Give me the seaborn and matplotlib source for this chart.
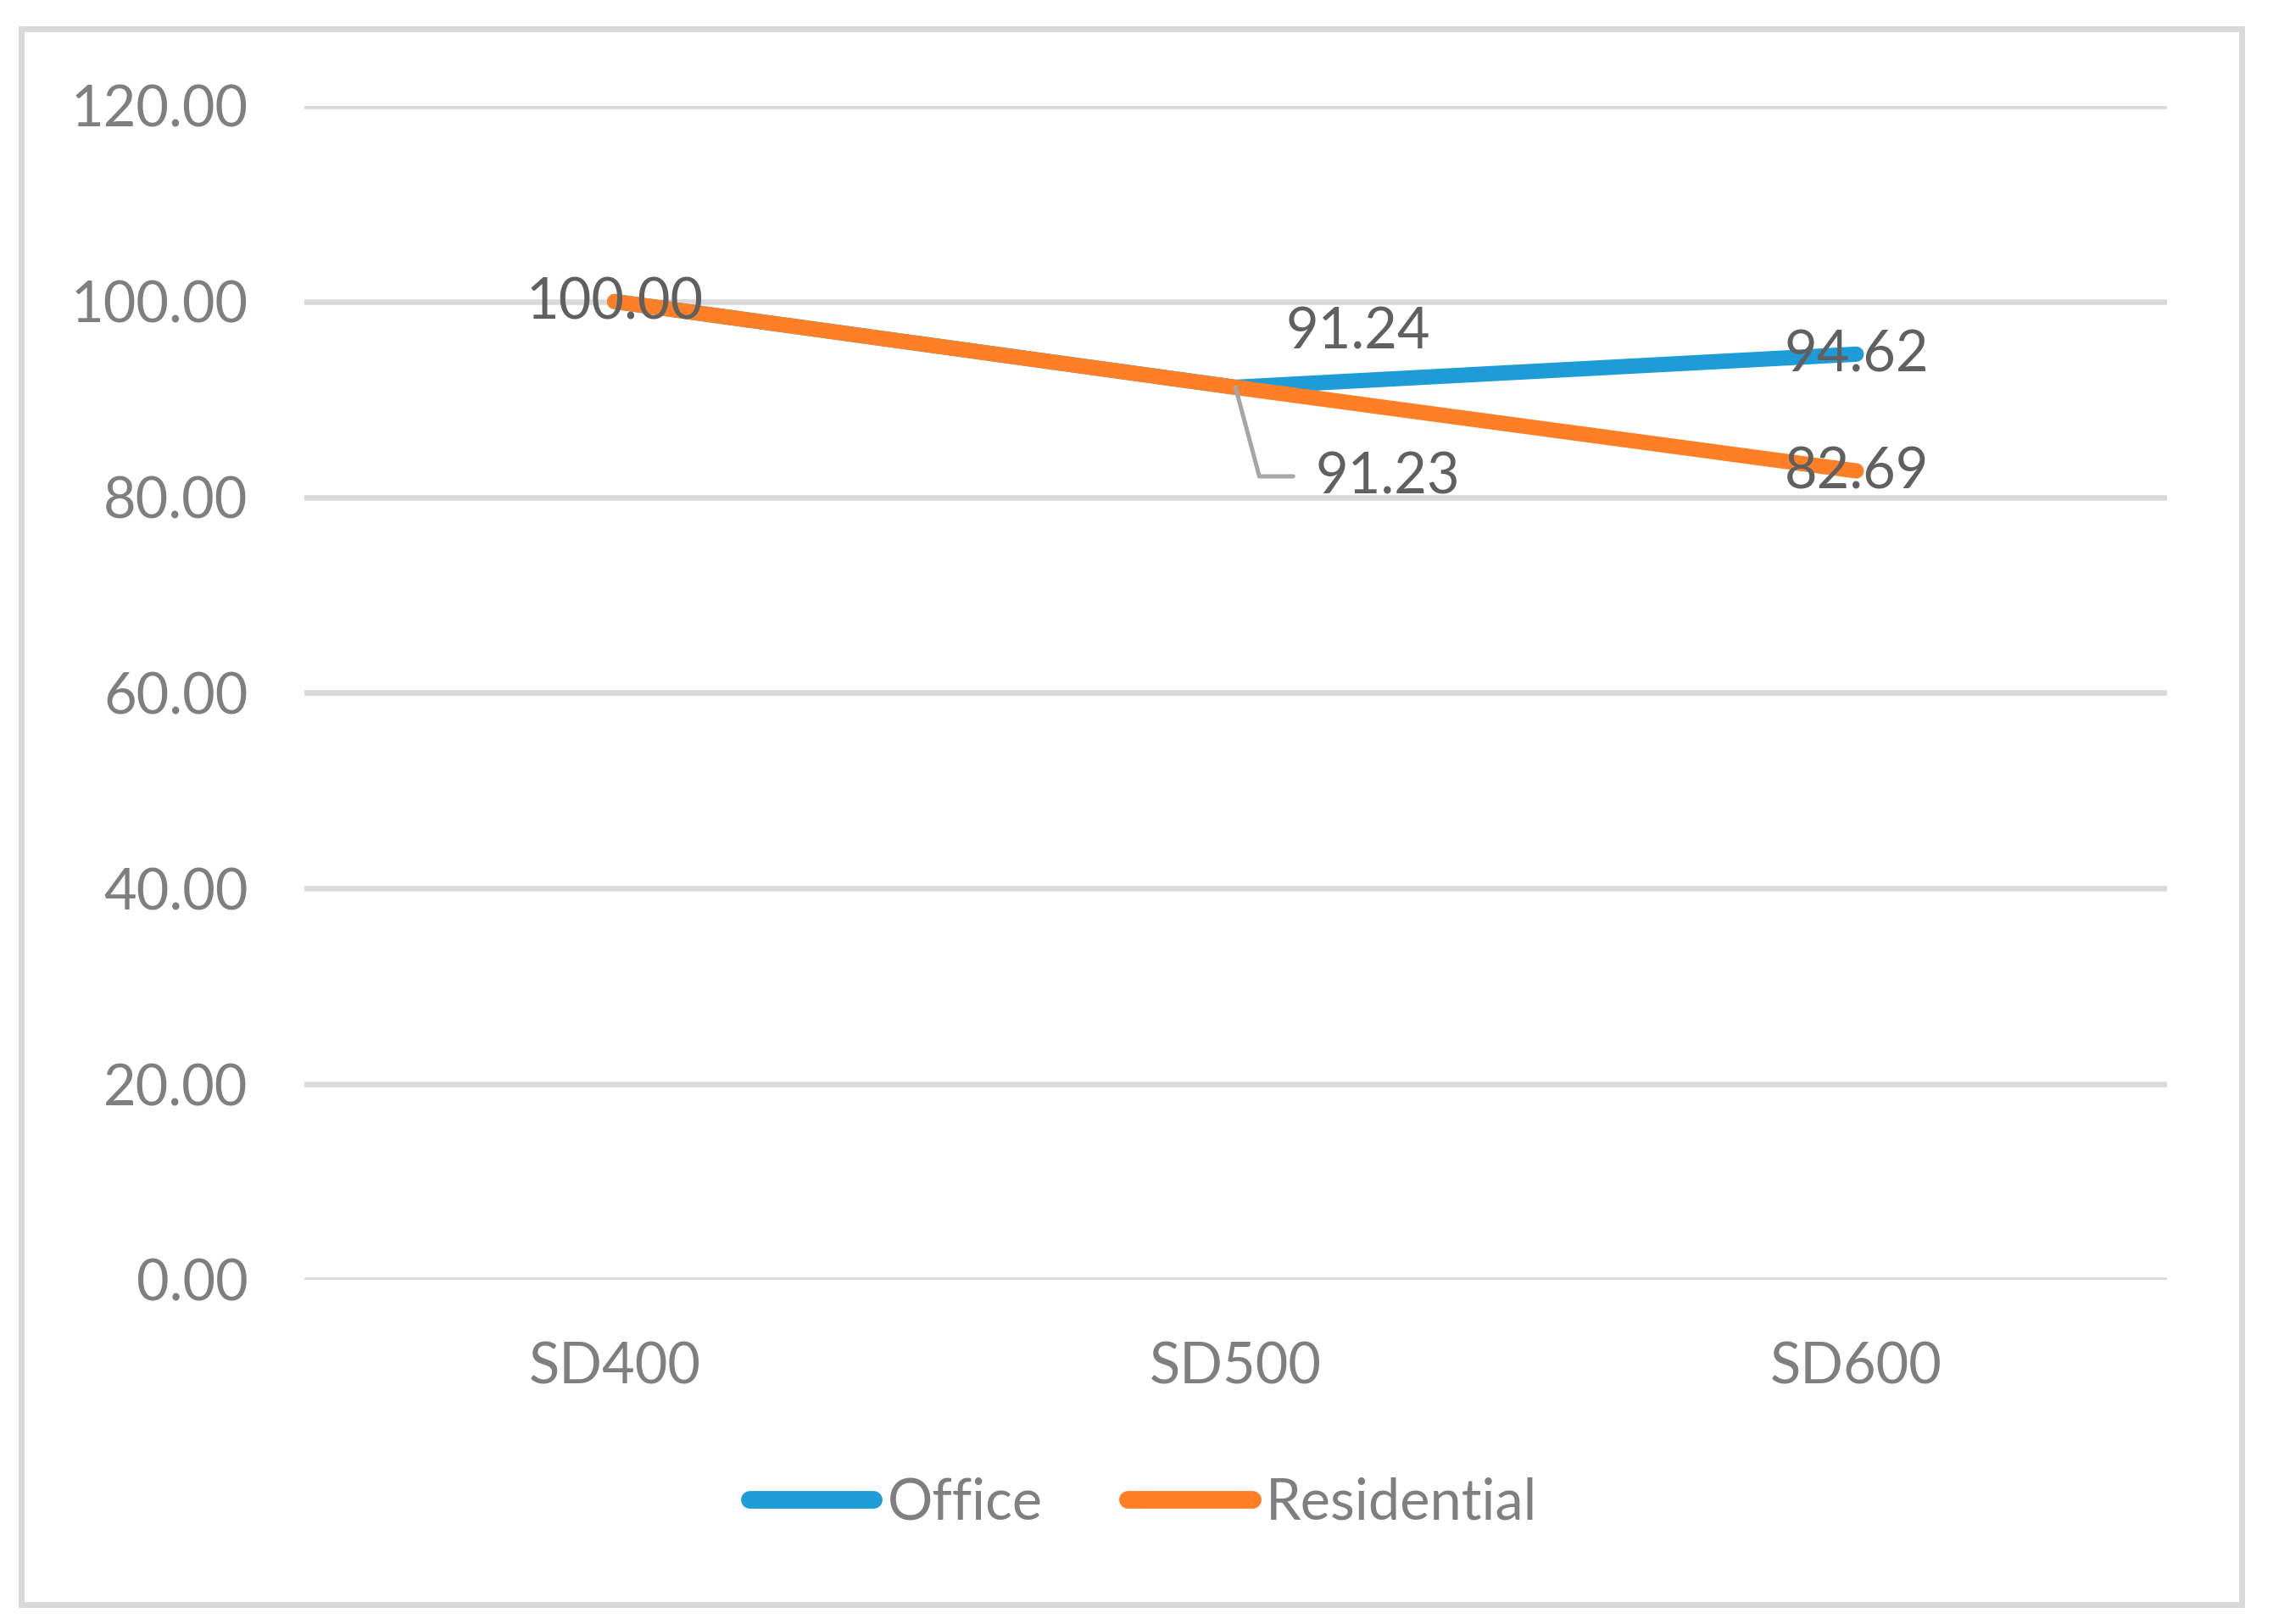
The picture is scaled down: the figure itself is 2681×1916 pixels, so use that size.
import pandas as pd
import matplotlib.pyplot as plt
import seaborn as sns
from matplotlib.patches import Rectangle

# Chart data
categories = ['SD400', 'SD500', 'SD600']
office = [100.00, 91.24, 94.62]
residential = [100.00, 91.23, 82.69]
series_names = ['Office', 'Residential']
y_ticks = [0, 20, 40, 60, 80, 100, 120]

df = pd.DataFrame({
    'cat': categories * 2,
    'value': office + residential,
    'series': [series_names[0]] * 3 + [series_names[1]] * 3,
})

sns.set_theme(style='white')
plt.rcParams['font.family'] = ['Lato', 'DejaVu Sans']

fig = plt.figure(figsize=(26.81, 19.16), dpi=100)
ax = fig.add_axes([0.1339, 0.2119, 0.8193, 0.7229])

sns.lineplot(data=df, x='cat', y='value', hue='series',
             palette=['#1E9CD7', '#FE7F25'], linewidth=13,
             solid_capstyle='round', sort=False, ax=ax)

ax.set_xlim(-0.5, 2.5)
ax.set_ylim(0, 120)
ax.set_yticks(y_ticks)
ax.set_yticklabels([f'{v:.2f}' for v in y_ticks])
ax.yaxis.grid(True, color='#D9D9D9', linewidth=4.7)
ax.set_axisbelow(True)
for s in ax.spines.values():
    s.set_visible(False)
ax.tick_params(axis='y', length=0, pad=48, labelsize=48, labelcolor='#7F7F7F')
ax.tick_params(axis='x', length=0, pad=52, labelsize=48, labelcolor='#7F7F7F')
ax.set_xlabel('')
ax.set_ylabel('')

# Data labels
lab = dict(fontsize=48, color='#606060', ha='center', va='center',
           textcoords='offset pixels')
ax.annotate(f'{office[0]:.2f}', (0, office[0]), xytext=(0, -2), **lab)
ax.annotate(f'{office[1]:.2f}', (1, office[1]), xytext=(145, 64), **lab)
ax.annotate(f'{office[2]:.2f}', (2, office[2]), xytext=(0, -2), **lab)
ax.annotate(f'{residential[2]:.2f}', (2, residential[2]), xytext=(0, -2), **lab)
ax.annotate(f'{residential[1]:.2f}', (1, residential[1]), xytext=(180, -107), **lab)
# leader line for 91.23
ax.annotate('', xy=(1, residential[1]), xytext=(68, -105),
            textcoords='offset pixels',
            arrowprops=dict(arrowstyle='-', color='#A6A6A6', lw=3.6,
                            shrinkA=0, shrinkB=0,
                            connectionstyle='angle,angleA=0,angleB=-75'))

handles, labels = ax.get_legend_handles_labels()
ax.legend_.remove()
leg = fig.legend(handles, labels, loc='center', bbox_to_anchor=(0.503, 0.0746),
                 ncol=2, frameon=False, fontsize=48, handlelength=2.2,
                 handletextpad=0.25, columnspacing=1.5, labelcolor='#7F7F7F')
for h in leg.get_lines():
    h.set_linewidth(15)
    h.set_solid_capstyle('round')

# outer chart border
fig.patches.append(Rectangle((25 / 2681, 1 - 1893 / 1916), 2619 / 2681, 1859 / 1916,
                             transform=fig.transFigure, fill=False,
                             edgecolor='#D9D9D9', linewidth=5))

fig.savefig('out.png', dpi=100)
